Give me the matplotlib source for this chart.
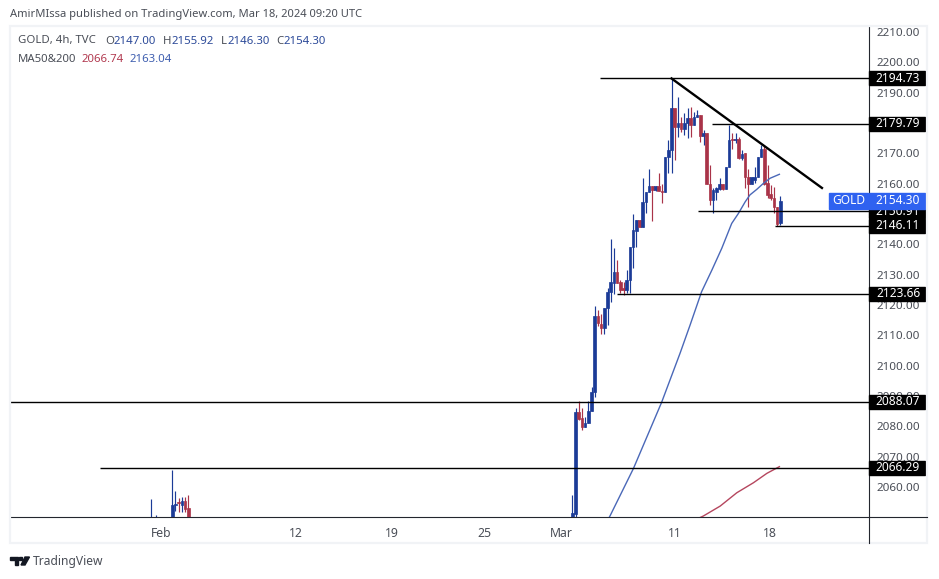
import matplotlib
matplotlib.use("Agg")
import matplotlib.pyplot as plt
from matplotlib.lines import Line2D
from matplotlib.patches import Rectangle, Polygon, FancyBboxPatch

plt.rcParams['font.family'] = ['Noto Sans', 'DejaVu Sans']

# candles, x is bar number counted from the first bar of March
bar_x = list(range(66))
opens = [2045, 2051, 2084.8, 2082.6, 2079.9, 2081.2, 2085.0, 2091.4, 2116.3, 2113.6, 2112.3,
         2118.9, 2124.3, 2127.3, 2131.0, 2127.7, 2125.5, 2125.1, 2128.4, 2139.2, 2144.5,
         2148.0, 2145.8, 2154.1, 2157.4, 2159.4, 2157.9, 2159.4, 2157.7, 2157.4, 2168.9,
         2171.1, 2184.8, 2178.8, 2180.1, 2177.9, 2179.9, 2181.5, 2179.3, 2182.1, 2182.5,
         2175.7, 2176.6, 2159.9, 2154.6, 2157.4, 2158.2, 2159.9, 2158.2, 2165.6, 2174.6,
         2174.4, 2174.6, 2168.6, 2170.0, 2162.1, 2159.9, 2161.2, 2162.3, 2168.9, 2171.6,
         2160.1, 2156.5, 2155.2, 2152.2, 2147.0]
highs = [2057.3, 2085.9, 2088.3, 2085.9, 2083.2, 2088.3, 2093.1, 2119.6, 2118.3, 2117.2, 2118.9,
         2125.5, 2141.7, 2138.7, 2134.8, 2128.4, 2127.7, 2131.5, 2139.2, 2149.9, 2148.0,
         2148.0, 2161.8, 2157.4, 2164.8, 2159.4, 2159.4, 2163.6, 2160.0, 2168.9, 2174.4,
         2194.7, 2184.8, 2188.7, 2182.1, 2183.2, 2184.8, 2185.4, 2183.7, 2184.3, 2182.6,
         2177.7, 2176.6, 2166.2, 2158.5, 2159.0, 2161.8, 2159.9, 2165.6, 2179.3, 2176.6,
         2176.6, 2175.3, 2171.1, 2170.0, 2165.0, 2162.1, 2165.6, 2168.9, 2172.7, 2172.4,
         2166.2, 2159.6, 2159.0, 2152.2, 2155.92]
lows = [2040, 2048, 2082.1, 2078.8, 2079.7, 2081.0, 2085.0, 2089.8, 2113.1, 2110.3, 2110.6,
        2113.4, 2121.1, 2123.6, 2127.1, 2124.0, 2123.3, 2124.0, 2124.0, 2132.1, 2139.2,
        2145.8, 2145.8, 2150.2, 2157.4, 2147.7, 2157.7, 2157.7, 2153.7, 2157.4, 2163.6,
        2163.4, 2167.8, 2175.5, 2177.1, 2176.0, 2175.0, 2175.5, 2179.3, 2182.1, 2173.8,
        2172.7, 2159.9, 2153.0, 2150.4, 2154.6, 2157.9, 2157.9, 2158.2, 2165.6, 2171.6,
        2173.3, 2168.3, 2167.8, 2158.5, 2152.4, 2159.9, 2160.1, 2162.3, 2168.9, 2159.6,
        2155.2, 2154.6, 2150.2, 2146.0, 2146.3]
closes = [2051.5, 2084.8, 2082.3, 2079.9, 2081.2, 2085.0, 2091.4, 2116.3, 2114.2, 2112.3, 2118.9,
          2124.3, 2127.6, 2131.0, 2127.1, 2124.9, 2125.1, 2128.4, 2139.2, 2144.7, 2148.0,
          2145.8, 2154.1, 2157.4, 2159.4, 2157.9, 2159.4, 2157.7, 2157.4, 2168.7, 2171.1,
          2184.8, 2178.8, 2179.9, 2177.9, 2180.1, 2181.5, 2179.3, 2182.1, 2182.6, 2175.7,
          2176.6, 2159.9, 2154.6, 2157.9, 2158.5, 2159.9, 2158.2, 2165.6, 2174.4, 2174.4,
          2174.8, 2168.6, 2169.7, 2162.3, 2159.9, 2162.1, 2162.3, 2168.9, 2171.6, 2159.9,
          2156.3, 2155.2, 2152.2, 2146.7, 2154.3]

# the few february bars that poke above the bottom of the chart
feb_x = [-131.6, -130, -125, -124, -123, -122, -121, -120]
feb_opens = [2040, 2040, 2040, 2054.0, 2055.0, 2054.2, 2055.3, 2053.1]
feb_highs = [2056.0, 2050.7, 2065.6, 2058.6, 2056.5, 2056.8, 2056.8, 2057.5]
feb_lows = [2040, 2040, 2040, 2052.0, 2051.8, 2051.8, 2051.8, 2040]
feb_closes = [2045, 2045, 2054.2, 2054.4, 2054.7, 2055.3, 2052.7, 2040]

ma200_x = [11, 11.8, 19.1, 27.9, 33.7, 36.8, 40.4, 43.6, 46.7, 49.8, 51.9, 54.0, 55.5, 57.6, 59.7, 61.8, 64.7]
ma200_y = [2049, 2050.5, 2066.1, 2087.9, 2104.2, 2113.4, 2124.4, 2131.5, 2138.7, 2146.9, 2150.2, 2154.0, 2156.3, 2158.1, 2160.1, 2161.8, 2163.1]
ma50_x = [38, 40.9, 46.2, 51.4, 56.6, 60.8, 64.7]
ma50_y = [2049, 2050.4, 2053.7, 2058.1, 2061.4, 2064.5, 2066.7]

level_prices = [2194.73, 2179.79, 2150.91, 2123.66, 2088.07, 2066.29, 2146.11]
level_starts = [8.7, 43.7, 39.3, 14, -175.7, -147.6, 63.4]
level_labels = ['2194.73', '2179.79', '2150.91', '2123.66', '2088.07', '2066.29', '2146.11']

trend_x = [31, 78]
trend_y = [2194.7, 2158.6]

# 2180 and 2150 sit fully behind the price labels, so they are left out
y_ticks = [2060, 2070, 2080, 2090, 2100, 2110, 2120, 2130, 2140, 2160, 2170, 2190, 2200, 2210]
x_ticks = [-128.5, -86.4, -56.5, -27.6, -3.5, 32.1, 61.8]
x_labels = ['Feb', '12', '19', '25', 'Mar', '11', '18']

BLUE = '#1b3b97'
RED = '#a93348'
TEXT = '#4a4e57'
W, H = 939, 579


def fx(px):
    return px / W


def fy(py):
    return 1 - py / H


def drawCandles(ax, xs, o, h, l, c):
    colors = [BLUE if b >= a else RED for a, b in zip(o, c)]
    ax.vlines(xs, l, h, colors=colors, linewidth=0.85, zorder=2)
    ax.bar(xs, [b - a for a, b in zip(o, c)], bottom=o, width=0.8, color=colors,
           edgecolor=colors, linewidth=0.5, zorder=3)


fig = plt.figure(figsize=(W / 100, H / 100), dpi=100, facecolor='white')
ax = fig.add_axes([fx(10), fy(517), fx(859), 491 / H])
ax.set_xlim(-175.7, 92.7)
ax.set_ylim(2050.1, 2212.0)

drawCandles(ax, bar_x, opens, highs, lows, closes)
drawCandles(ax, feb_x, feb_opens, feb_highs, feb_lows, feb_closes)

ax.plot(ma200_x, ma200_y, color='#4a68b8', linewidth=1.0, zorder=4)
ax.plot(ma50_x, ma50_y, color='#b5465e', linewidth=1.0, zorder=4)
ax.hlines(level_prices, level_starts, 92.7, colors='black', linewidth=1.0, zorder=4)
ax.plot(trend_x, trend_y, color='black', linewidth=1.7, zorder=5)

ax.spines['top'].set_visible(False)
ax.spines['left'].set_visible(False)
ax.spines['right'].set_color('#23262e')
ax.spines['bottom'].set_color('#23262e')
ax.yaxis.tick_right()
ax.set_yticks(y_ticks)
ax.set_yticklabels([f'{v}.00' for v in y_ticks], fontsize=8.4, color=TEXT)
ax.set_xticks(x_ticks)
ax.set_xticklabels(x_labels, fontsize=8.8, color=TEXT)
ax.tick_params(axis='both', length=0)
ax.tick_params(axis='y', pad=5.5)
ax.tick_params(axis='x', pad=7)

# price labels on the scale, painted over the tick labels
trans = ax.get_yaxis_transform()
box_w = 56 / 859
box_h = 14 / 491 * (2212.0 - 2050.1)
order = 7
for price, label in zip(level_prices, level_labels):
    ax.add_patch(Rectangle((1, price - box_h / 2), box_w, box_h, transform=trans, color='black',
                           clip_on=False, zorder=order))
    ax.text(1 + 29 / 859, price, label, transform=trans, color='white', fontsize=8.6,
            fontweight='semibold', ha='center', va='center', clip_on=False, zorder=order + 1)
    order += 2
ax.add_patch(Rectangle((1, 2154.3 - box_h * 0.6), box_w, box_h * 1.2, transform=trans, color='#2f62f0',
                       clip_on=False, zorder=30))
ax.text(1 + 29 / 859, 2154.3, '2154.30', transform=trans, color='white', fontsize=8.6,
        fontweight='semibold', ha='center', va='center', clip_on=False, zorder=31)
ax.add_patch(Rectangle((1 - 40 / 859, 2154.3 - box_h * 0.6), 39 / 859, box_h * 1.2, transform=trans,
                       color='#2f62f0', clip_on=False, zorder=30))
ax.text(1 - 20.5 / 859, 2154.3, 'GOLD', transform=trans, color='white', fontsize=8.6,
        fontweight='medium', ha='center', va='center', clip_on=False, zorder=31)

# panel border and the axis lines running on into it
fig.add_artist(Rectangle((fx(10), fy(543)), fx(917), 517 / H, transform=fig.transFigure,
                         fill=False, edgecolor='#f1f3f6', linewidth=1.6))
fig.add_artist(Line2D([fx(869), fx(927)], [fy(517), fy(517)], color='#23262e', linewidth=0.8))
fig.add_artist(Line2D([fx(869), fx(869)], [fy(517), fy(543)], color='#23262e', linewidth=0.8))

# header text
fig.text(fx(10), fy(15), 'AmirMIssa published on TradingView.com, Mar 18, 2024 09:20 UTC',
         fontsize=8.05, color=TEXT, va='center')
legend_line = [(18, 'GOLD, 4h, TVC', TEXT), (105, 'O', TEXT), (114, '2147.00', '#2c4a99'),
               (163, 'H', TEXT), (171, '2155.92', '#2c4a99'), (221, 'L', TEXT),
               (227, '2146.30', '#2c4a99'), (276, 'C', TEXT), (284, '2154.30', '#2c4a99')]
for px, s, col in legend_line:
    fig.text(fx(px), fy(41), s, fontsize=8.2, color=col, va='center')
for px, s, col in [(18, 'MA50&200', TEXT), (81, '2066.74', '#b23a50'), (130, '2163.04', '#3f5fb0')]:
    fig.text(fx(px), fy(59), s, fontsize=8.2, color=col, va='center')

# TradingView logo
fig.add_artist(Polygon([(fx(10), fy(557)), (fx(18), fy(557)), (fx(18), fy(565)), (fx(14.5), fy(565)),
                        (fx(14.5), fy(560)), (fx(10), fy(560))], transform=fig.transFigure, color='#131722'))
fig.add_artist(Polygon([(fx(25), fy(557)), (fx(29.5), fy(557)), (fx(25), fy(565)), (fx(21), fy(565))],
                       transform=fig.transFigure, color='#131722'))
fig.add_artist(Polygon([(fx(19), fy(557)), (fx(22), fy(557)), (fx(22), fy(560)), (fx(19), fy(560))],
                       transform=fig.transFigure, color='#131722'))
fig.text(fx(33), fy(561), 'TradingView', fontsize=8.7, color=TEXT, va='center')

plt.savefig('out.png', dpi=100)
